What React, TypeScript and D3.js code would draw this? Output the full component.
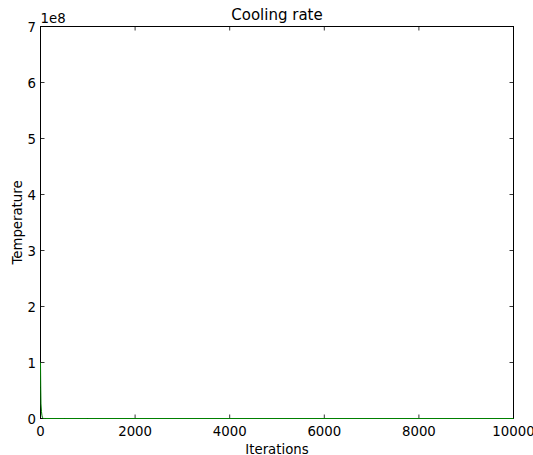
import React from "react";
import * as d3 from "d3";

const iterations = [0, 5, 10, 20, 30, 40, 50, 70, 100, 200, 500, 1000, 2000, 5000, 10000];
const temperature = [1.0e8, 5.5e7, 2.6e7, 1.3e7, 6.0e6, 2.0e6, 5.0e5, 5.0e4, 2.0e3, 1, 0, 0, 0, 0, 0];
const xTicks = [0, 2000, 4000, 6000, 8000, 10000];
const yTicks = [0, 1, 2, 3, 4, 5, 6, 7];

const W = 533, H = 455;
const L = 40.5, R = 513.5, T = 26.5, B = 418.5;
const FONT = "DejaVu Sans, sans-serif";

export default function App() {
  const x = d3.scaleLinear().domain([0, 10000]).range([L, R]);
  const y = d3.scaleLinear().domain([0, 7e8]).range([B, T]);
  const line = d3.line<number>().x((_, i) => x(iterations[i])).y((d) => y(d));
  const path = line(temperature) || "";
  return (
    <svg width={W} height={H} style={{ position: "absolute", left: 0, top: 0, background: "#fff" }}>
      <rect x={0} y={0} width={W} height={H} fill="#fff" />
      <text x={(L + R) / 2} y={19.5} textAnchor="middle" fontFamily={FONT} fontSize={15} fill="#000">Cooling rate</text>
      {xTicks.map((t) => (
        <g key={"x" + t}>
          <line x1={x(t)} x2={x(t)} y1={B} y2={B - 4} stroke="#000" strokeWidth={0.8} />
          <line x1={x(t)} x2={x(t)} y1={T} y2={T + 4} stroke="#000" strokeWidth={0.8} />
          <text x={x(t)} y={435.5} textAnchor="middle" fontFamily={FONT} fontSize={13.3} fill="#000">{t}</text>
        </g>
      ))}
      {yTicks.map((t) => (
        <g key={"y" + t}>
          <line x1={L} x2={L + 4} y1={y(t * 1e8)} y2={y(t * 1e8)} stroke="#000" strokeWidth={0.8} />
          <line x1={R} x2={R - 4} y1={y(t * 1e8)} y2={y(t * 1e8)} stroke="#000" strokeWidth={0.8} />
          <text x={36} y={y(t * 1e8) + 5} textAnchor="end" fontFamily={FONT} fontSize={13.3} fill="#000">{t}</text>
        </g>
      ))}
      <text x={L} y={23} fontFamily={FONT} fontSize={13.3} fill="#000">1e8</text>
      <rect x={L} y={T} width={R - L} height={B - T} fill="none" stroke="#000" strokeWidth={1} />
      <path d={path} fill="none" stroke="#008000" strokeWidth={1} />
      <text x={(L + R) / 2} y={454} textAnchor="middle" fontFamily={FONT} fontSize={13.3} fill="#000">Iterations</text>
      <text transform={`translate(22,${(T + B) / 2}) rotate(-90)`} textAnchor="middle" fontFamily={FONT} fontSize={13.3} fill="#000">Temperature</text>
    </svg>
  );
}
